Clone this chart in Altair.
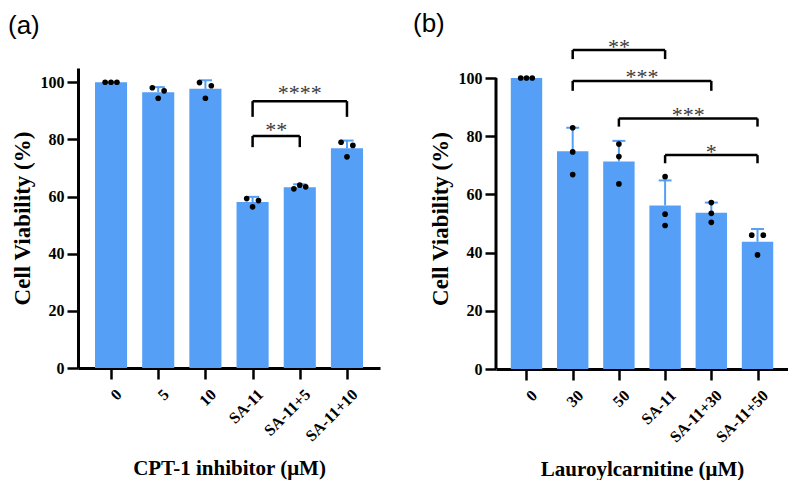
import json
import altair as alt
import pandas as pd

BLUE = "#559FF6"
SERIF = "Liberation Serif"

# ---------------- Panel (a) data ----------------
cats_a = ["0", "5", "10", "SA-11", "SA-11+5", "SA-11+10"]
mean_a = [100, 96.5, 97.7, 58.1, 63.3, 76.9]
upper_a = [100, 98.3, 100.7, 59.9, 64.3, 79.6]
pts_a = [[100, 100, 100], [98.1, 94.4, 97.0], [99.9, 94.4, 98.8],
         [59.3, 56.4, 58.6], [62.7, 64.0, 63.4], [79.0, 73.9, 77.9]]
jit_a = [[-1, 0, 1], [-1, 0, 1], [-1, 0, 1], [-1, 0, 1], [-1, 0, 1], [-1, 0, 1]]
br_a_left = [3, 3]
br_a_right = [4, 5]
br_a_level = [81.2, 93.4]
br_a_tip = [77.3, 87.9]
br_a_text = ["**", "****"]
br_a_texty = [84.6, 97.5]

# ---------------- Panel (b) data ----------------
cats_b = ["0", "30", "50", "SA-11", "SA-11+30", "SA-11+50"]
mean_b = [100, 74.8, 71.3, 56.2, 53.7, 43.7]
upper_b = [100, 82.9, 78.4, 64.8, 57.2, 48.1]
pts_b = [[100, 100, 100], [82.9, 74.6, 66.8], [77.3, 73.0, 63.6],
         [66.1, 53.2, 49.3], [57.2, 53.5, 50.4], [46.0, 39.2, 46.0]]
jit_b = [[-1, 0, 1], [0, 0, 0], [0, 0, 0], [0, 0, 0], [0, 0, 0], [-1, 0, 1]]
br_b_left = [1, 1, 2, 3]
br_b_right = [3, 4, 5, 5]
br_b_level = [109.6, 99.0, 86.1, 73.5]
br_b_tip = [106.5, 95.6, 83.3, 70.7]
br_b_text = ["**", "***", "***", "*"]
br_b_texty = [112.1, 101.8, 88.7, 75.8]

y_ticks = [0, 20, 40, 60, 80, 100]


def panel(cats, means, uppers, pts, jit, bl, br, bh, bt, bs, bsy,
          xdom, ydom, w, h, xtitle, ptitle, tdx, toff, axis_line):
    n = len(cats)
    bars = pd.DataFrame({"i": list(range(n)), "mean": means, "upper": uppers})
    dots = pd.DataFrame([{"i": i, "v": v, "j": j}
                         for i in range(n) for v, j in zip(pts[i], jit[i])])
    brk = pd.DataFrame({"l": bl, "r": br, "h": bh, "t": bt, "s": bs, "sy": bsy})

    xs = alt.Scale(domain=xdom, nice=False, zero=False)
    ys = alt.Scale(domain=ydom, nice=False)
    xaxis = alt.Axis(values=list(range(n)),
                     labelExpr=json.dumps(cats) + "[datum.value]",
                     labelAngle=-45, labelAlign="right", labelBaseline="top",
                     labelOffset=2, labelOverlap=False, labelPadding=7,
                     titlePadding=14)
    yaxis = alt.Axis(values=y_ticks, titlePadding=6, labelPadding=3,
                     domain=not axis_line)

    def X(f):
        return alt.X(f, type="quantitative", scale=xs, axis=xaxis, title=xtitle)

    def Y(f):
        return alt.Y(f, type="quantitative", scale=ys, axis=yaxis, title="Cell Viability (%)")

    layers = []
    bar_layer = alt.Chart(bars).transform_calculate(
        lo="datum.i - 0.34", hi="datum.i + 0.34"
    ).mark_bar(color=BLUE).encode(x=X("lo"), x2="hi", y=Y("mean"), y2=alt.datum(0))
    layers.append(bar_layer)

    if axis_line:
        # y-axis line drawn only from 0 to the last tick
        yline = alt.Chart(bars).transform_aggregate(n="count()").mark_rule(
            color="black", strokeWidth=3
        ).encode(x=alt.X(datum=xdom[0], type="quantitative", scale=xs, axis=xaxis, title=xtitle),
                 y=alt.Y(datum=y_ticks[0], type="quantitative", scale=ys, axis=yaxis,
                         title="Cell Viability (%)"),
                 y2=alt.datum(y_ticks[-1]))
        layers.append(yline)

    err = alt.Chart(bars).mark_rule(color=BLUE, strokeWidth=2).encode(
        x=X("i"), y=Y("mean"), y2="upper")
    cap = alt.Chart(bars).transform_calculate(
        clo="datum.i - 0.14", chi="datum.i + 0.14"
    ).mark_rule(color=BLUE, strokeWidth=2).encode(x=X("clo"), x2="chi", y=Y("upper"))

    dot_layer = alt.Chart(dots).transform_calculate(
        xj="datum.i + datum.j * 0.125"
    ).mark_circle(color="black", opacity=1, size=32).encode(x=X("xj"), y=Y("v"))

    hline = alt.Chart(brk).mark_rule(color="black", strokeWidth=2.5).encode(
        x=X("l"), x2="r", y=Y("h"))
    lv = alt.Chart(brk).mark_rule(color="black", strokeWidth=2.5).encode(
        x=X("l"), y=Y("t"), y2="h")
    rv = alt.Chart(brk).mark_rule(color="black", strokeWidth=2.5).encode(
        x=X("r"), y=Y("t"), y2="h")
    stars = alt.Chart(brk).transform_calculate(
        m="(datum.l + datum.r) / 2"
    ).mark_text(font=SERIF, fontSize=22, color="#3a3a3a", baseline="middle",
                dy=4).encode(x=X("m"), y=Y("sy"), text="s:N")

    layers += [err, cap, dot_layer, hline, lv, rv, stars]
    return alt.layer(*layers).properties(
        width=w, height=h,
        title=alt.TitleParams(ptitle, anchor="start", font="Liberation Sans",
                              fontSize=26, fontWeight="normal", color="black",
                              dx=tdx, offset=toff),
    )


pa = panel(cats_a, mean_a, upper_a, pts_a, jit_a, br_a_left, br_a_right,
           br_a_level, br_a_tip, br_a_text, br_a_texty,
           [-0.70, 5.70], [0, 105], 302, 300, "CPT-1 inhibitor (μM)", "(a)", -3, 29, False)
pb = panel(cats_b, mean_b, upper_b, pts_b, jit_b, br_b_left, br_b_right,
           br_b_level, br_b_tip, br_b_text, br_b_texty,
           [-0.66, 5.66], [0, 103.44], 292, 301, "Lauroylcarnitine (μM)", "(b)", -16, -1, True)

chart = alt.hconcat(pa, pb, spacing=33).properties(
    padding={"left": 0, "top": 2, "right": 0, "bottom": 0}
).configure_view(
    stroke=None
).configure_axis(
    grid=False,
    domainColor="black", domainWidth=3,
    tickColor="black", tickWidth=2.5, tickSize=11,
    labelFont=SERIF, labelFontWeight="bold", labelFontSize=16, labelColor="black",
    titleFont=SERIF, titleFontWeight="bold", titleFontSize=21, titleColor="black",
).configure_axisY(titleFontSize=23)

chart.save("out.html", embed_options={"renderer": "svg", "actions": False})
